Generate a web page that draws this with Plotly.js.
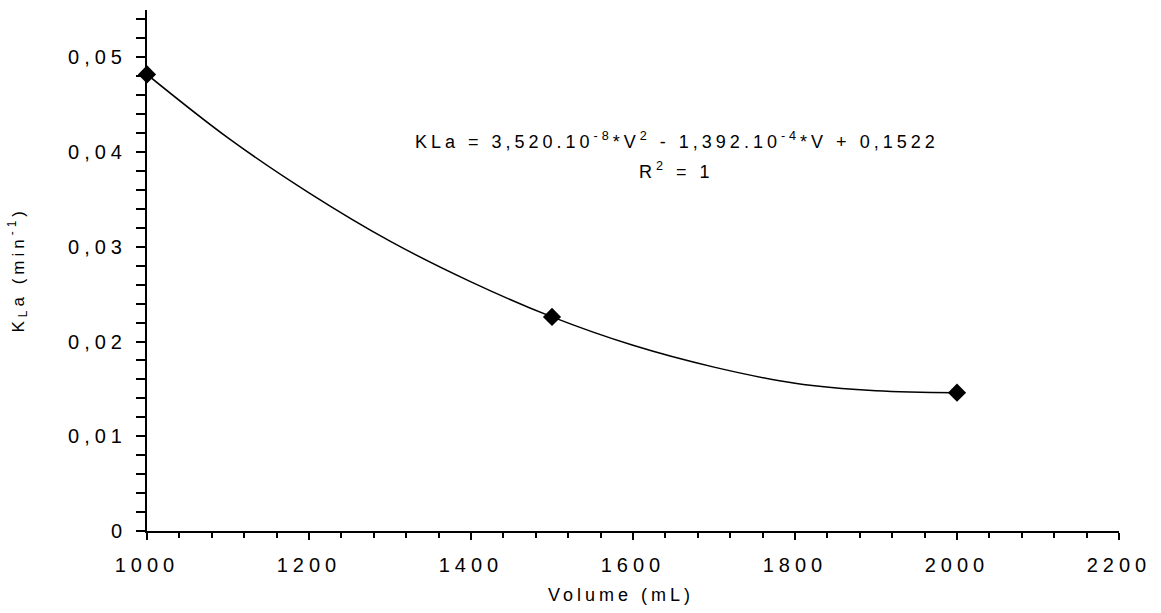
<!DOCTYPE html>
<html>
<head>
<meta charset="utf-8">
<script src="https://cdn.plot.ly/plotly-3.0.1.min.js"></script>
<style>
html,body{margin:0;padding:0;background:#fff;}
#chart{width:1161px;height:613px;}
.xtick text,.ytick text{letter-spacing:5px;}
.annotation-text{letter-spacing:4px;}
</style>
</head>
<body>
<div id="chart"></div>
<script>
// Measured data points
const volume = [1000, 1500, 2000];
const kla = [0.0482, 0.0226, 0.0146];

// Trendline
const trendVolume = [1000, 1100, 1200, 1300, 1400, 1500, 1600, 1700, 1800, 1900, 2000];
const trendKla = [0.0482, 0.0415, 0.0357, 0.0306, 0.0263, 0.0226, 0.0196, 0.0173, 0.0156, 0.0148, 0.0146];

const xTickVals = [1000, 1200, 1400, 1600, 1800, 2000, 2200];
const yTickVals = [0, 0.01, 0.02, 0.03, 0.04, 0.05];
const yTickText = ['0', '0,01', '0,02', '0,03', '0,04', '0,05'];
const yMinorVals = [0.002,0.004,0.006,0.008,0.012,0.014,0.016,0.018,0.022,0.024,0.026,0.028,0.032,0.034,0.036,0.038,0.042,0.044,0.046,0.048,0.052,0.054];

const equationLine = 'KLa = 3,520.10<sup>-8</sup>*V<sup>2</sup> - 1,392.10<sup>-4</sup>*V + 0,1522';
const r2Line = 'R<sup>2</sup> = 1';
const yTitle = 'K<sub>L</sub>a (min<sup>-1</sup>)';
const xTitle = 'Volume (mL)';

const font = 'Arial, "Liberation Sans", sans-serif';

const traces = [
  {
    x: trendVolume, y: trendKla, type: 'scatter', mode: 'lines',
    line: {color: '#000', width: 1.5, shape: 'spline'},
    hoverinfo: 'skip', showlegend: false, cliponaxis: false
  },
  {
    x: volume, y: kla, type: 'scatter', mode: 'markers',
    marker: {symbol: 'diamond', size: 14, color: '#000'},
    showlegend: false, cliponaxis: false
  }
];

const layout = {
  width: 1161, height: 613,
  margin: {l: 147, r: 42, t: 10, b: 82},
  paper_bgcolor: '#fff', plot_bgcolor: '#fff',
  font: {family: font, color: '#000', size: 16},
  showlegend: false,
  xaxis: {
    range: [1000, 2200], showgrid: false, zeroline: false,
    showline: true, linecolor: '#000', linewidth: 2,
    ticks: 'outside', ticklen: 7, tickwidth: 2, tickcolor: '#000',
    tickvals: xTickVals, ticktext: xTickVals.map(String),
    tickfont: {size: 20, family: font},
    ticklabelstandoff: 8,
    minor: {dtick: 40, ticks: 'outside', ticklen: 5, tickwidth: 2, tickcolor: '#000', showgrid: false}
  },
  yaxis: {
    range: [0, 0.055], showgrid: false, zeroline: false,
    showline: true, linecolor: '#000', linewidth: 2,
    ticks: 'outside', ticklen: 9, tickwidth: 2, tickcolor: '#000',
    tickvals: yTickVals, ticktext: yTickText,
    tickfont: {size: 20, family: font},
    ticklabelstandoff: 5,
    minor: {tickvals: yMinorVals, ticks: 'outside', ticklen: 9, tickwidth: 2, tickcolor: '#000', showgrid: false}
  },
  annotations: [
    {
      x: 1654, y: 0.04125, xref: 'x', yref: 'y',
      text: equationLine, showarrow: false, align: 'center',
      xanchor: 'center', yanchor: 'middle',
      font: {size: 18, family: font, color: '#000'}
    },
    {
      x: 1654, y: 0.03808, xref: 'x', yref: 'y',
      text: r2Line, showarrow: false, align: 'center',
      xanchor: 'center', yanchor: 'middle',
      font: {size: 18, family: font, color: '#000'}
    },
    {
      x: -0.1327, y: 0.5, xref: 'paper', yref: 'paper',
      text: yTitle, textangle: -90, showarrow: false,
      xanchor: 'center', yanchor: 'middle',
      font: {size: 17, family: font, color: '#000'}
    },
    {
      x: 0.4877, y: -0.123, xref: 'paper', yref: 'paper',
      text: xTitle, showarrow: false,
      xanchor: 'center', yanchor: 'middle',
      font: {size: 18, family: font, color: '#000'}
    }
  ]
};

Plotly.newPlot('chart', traces, layout, {displayModeBar: false, staticPlot: true});
</script>
</body>
</html>
